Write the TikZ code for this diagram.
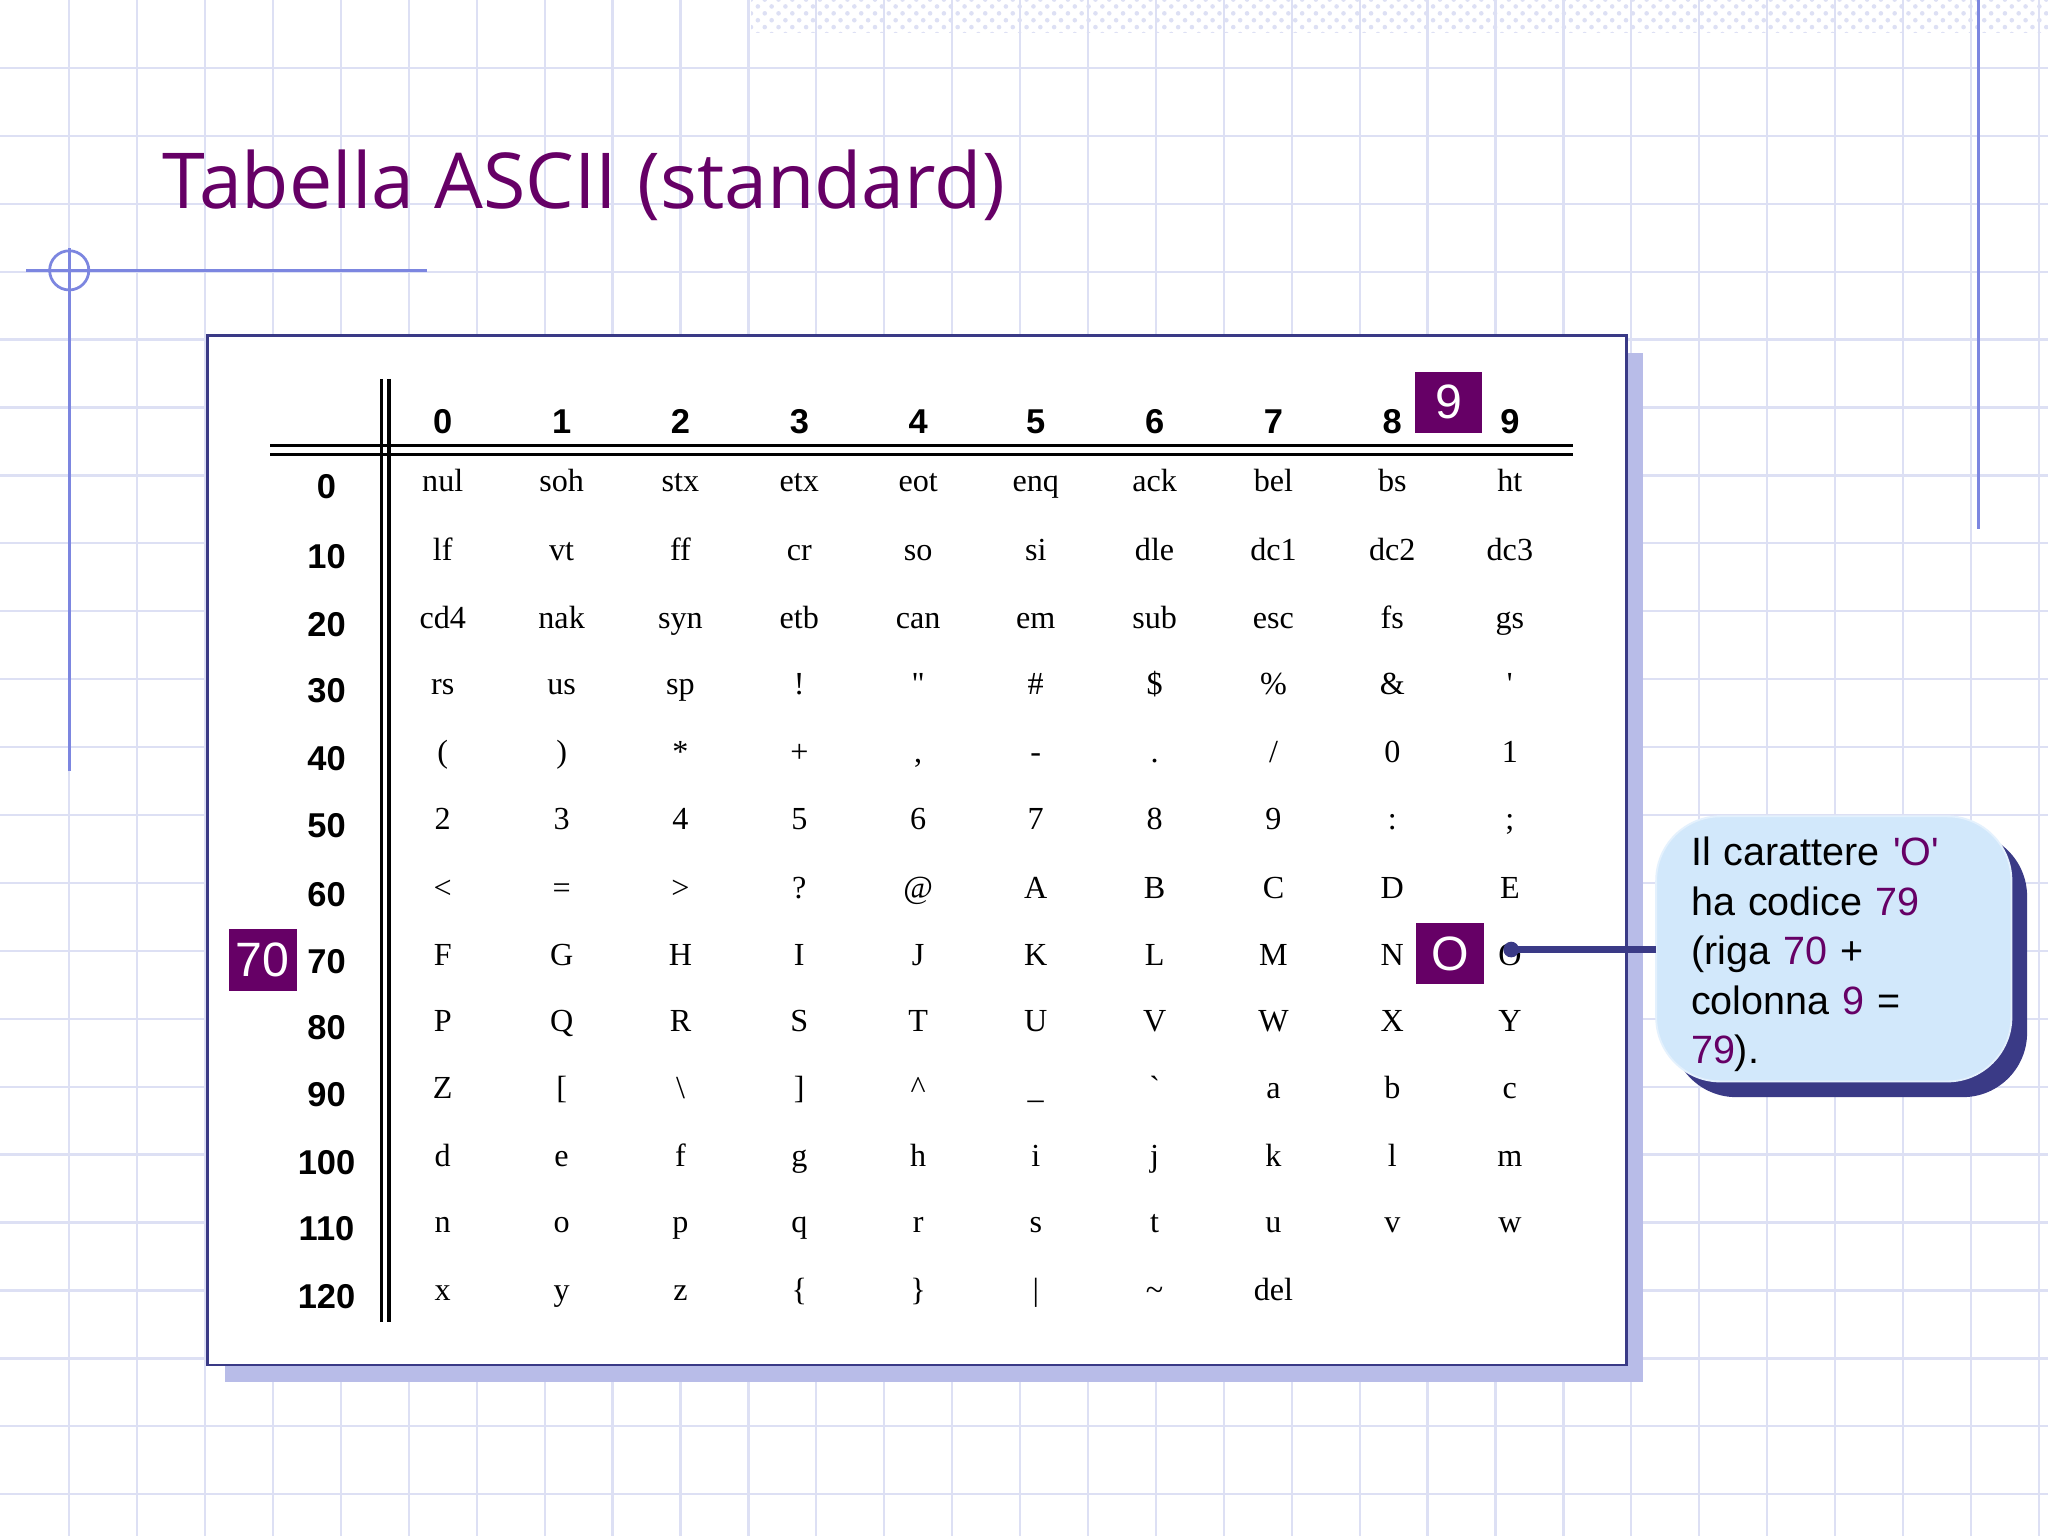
\documentclass[tikz,border=0pt]{standalone}
\usepackage{fontspec}
\setmainfont{Liberation Serif}
\newfontfamily\tserif{Liberation Serif}
\newfontfamily\hsans{Liberation Sans}
\newfontfamily\tsans{Open Sans}
\usetikzlibrary{patterns}
\definecolor{gridc}{HTML}{DDE0F4}
\definecolor{ttl}{HTML}{660066}
\definecolor{bluel}{HTML}{7C86E0}
\definecolor{shd}{HTML}{B8BCE8}
\definecolor{calf}{HTML}{D2E8FB}
\definecolor{cals}{HTML}{3A3A86}
\tikzset{
 cell/.style={font=\tserif\fontsize{7}{8}\selectfont,anchor=base},
 hdr/.style={font=\hsans\bfseries\fontsize{7.5}{8}\selectfont,anchor=base},
 pbox/.style={fill=ttl,text=white,font=\hsans\fontsize{10.5}{11}\selectfont,minimum width=0.52cm,minimum height=0.47cm,inner sep=0pt},
}
\begin{document}
\begin{tikzpicture}[x=0.01cm,y=-0.01cm]
\useasboundingbox (0,0) rectangle (1568,1176);
\fill[white] (0,0) rectangle (1568,1176);
\foreach \i in {1,...,30} {\draw[gridc,line width=0.5pt] (\i*52+1,0) -- (\i*52+1,1176);}
\foreach \i in {1,...,22} {\draw[gridc,line width=0.5pt] (0,\i*52) -- (1568,\i*52);}
\fill[pattern=crosshatch dots,pattern color=gridc] (575,0) rectangle (1568,25);
\draw[bluel,line width=0.6pt] (1515,0) -- (1515,405);
\draw[bluel,line width=0.6pt] (20,207) -- (327,207);
\draw[bluel,line width=0.6pt] (53,190) -- (53,590);
\draw[bluel,line width=0.6pt] (53,207) circle (15);
\node[anchor=west,text=ttl,font=\tsans\fontsize{16.8}{18}\selectfont] (title) at (112,142) {Tabella ASCII (standard)};
% table
\fill[shd] (172,270) rectangle (1258,1058);
\draw[fill=white,draw=cals,line width=0.6pt] (159,257) rectangle (1245,1045);
\draw[line width=0.8pt] (207,341) -- (1204,341) (207,348) -- (1204,348);
\draw[line width=0.8pt] (292,290) -- (292,1012) (298,290) -- (298,1012);
\def\xs{{339,430,521,612,703,793,884,975,1066,1156}}
\def\ys{{372,425,477,528,580,631,684,735,786,837,889,940,992}}
\foreach \c in {0,...,9} {\pgfmathsetmacro\xx{\xs[\c]}\node[hdr] (h\c) at (\xx,332) {\c};}
\foreach \r [count=\k from 0] in {0,10,20,30,40,50,60,70,80,90,100,110,120} {\pgfmathsetmacro\yy{\ys[\k]}\node[hdr] (r\k) at (250,\yy+10) {\r};}
\newcommand\crow[2]{\pgfmathsetmacro\yy{\ys[#1]}\foreach \t [count=\c from 0] in {#2} {\pgfmathsetmacro\xx{\xs[\c]}\node[cell] (c#1-\c) at (\xx,\yy+4) {\t};}}
\crow{0}{nul,soh,stx,etx,eot,enq,ack,bel,bs,ht}
\crow{1}{lf,vt,ff,cr,so,si,dle,dc1,dc2,dc3}
\crow{2}{cd4,nak,syn,etb,can,em,sub,esc,fs,gs}
\crow{3}{rs,us,sp,!,\char34,\char35,\char36,\char37,\char38,\char39}
\crow{4}{{\char40},{\char41},*,+,{\char44},-,.,/,0,1}
\crow{5}{2,3,4,5,6,7,8,9,:,;}
\crow{6}{<,=,>,?,@,A,B,C,D,E}
\crow{7}{F,G,H,I,J,K,L,M,N,O}
\crow{8}{P,Q,R,S,T,U,V,W,X,Y}
\crow{9}{Z,[,\char92,],\char94,\char95,\char96,a,b,c}
\crow{10}{d,e,f,g,h,i,j,k,l,m}
\crow{11}{n,o,p,q,r,s,t,u,v,w}
\crow{12}{x,y,z,\char123,\char125,\char124,\char126,del}
\node[pbox] (b9) at (1109,308) {9};
\node[pbox] (b70) at (201,735) {70};
\node[pbox] (bO) at (1110,730) {O};
% callout
\fill[cals,rounded corners=14] (1280,637) rectangle (1552,840);
\draw[calf!60!white,fill=calf,rounded corners=14] (1268,625) rectangle (1540,828);
\coordinate (dot) at (1157,727);
\draw[cals,line width=1.5pt] (1268,727) -- (dot);
\fill[cals] (dot) circle (6);
\node[anchor=north west,align=left,font=\hsans\fontsize{8.6}{10.8}\selectfont,text width=2.5cm,inner sep=0pt] (txt) at (1294,640) {Il carattere \textcolor{ttl}{'O'}\\ ha codice \textcolor{ttl}{79}\\ (riga \textcolor{ttl}{70} +\\ colonna \textcolor{ttl}{9} =\\ \textcolor{ttl}{79}).};
\end{tikzpicture}
\end{document}
